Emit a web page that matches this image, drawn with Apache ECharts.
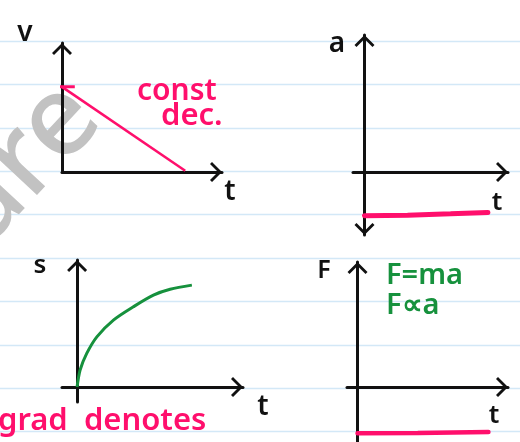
<!DOCTYPE html>
<html>
<head>
<meta charset="utf-8">
<script src="https://cdn.jsdelivr.net/npm/echarts@6/dist/echarts.min.js"></script>
<style>
  html, body { margin:0; padding:0; background:#fff; }
  #chart { width:520px; height:442px; }
</style>
</head>
<body>
<div id="chart"></div>
<script type="text/javascript">
  // sketch data (arbitrary units)
  var vData = [[0, 6.6], [7.7, 0.1]];          // v-t : constant deceleration
  var vTick = [[-0.3, 6.6], [0.8, 6.6]];       // little mark at v0 on the axis
  var aData = [[0, -3.2], [3, -3.15], [6, -3.05], [8.6, -2.95]];   // a-t
  var sData = [[0, 0], [0.2, 1.14], [0.64, 2.25], [1.31, 3.36], [2.41, 4.48],
               [3.73, 5.37], [5.06, 6.15], [6.17, 6.54], [7.61, 6.82]];  // s-t
  var fData = [[0, -3.7], [4, -3.68], [8.7, -3.6]];   // F-t

  var pink = '#ff0f6c';
  var green = '#16913d';
  var ink = '#111';
  var hand = "'Noto Sans', sans-serif";

  // open chevron arrow head
  var chevron = 'path://M0,10 L10,0 L20,10 L18,12 L10,4 L2,12 Z';

  function xAx(grid, min, max) {
    return {
      type: 'value', gridIndex: grid, min: min, max: max,
      axisLine: { show: true, onZero: true, symbol: ['none', chevron], symbolSize: [20, 12],
                  symbolOffset: [6, -6], lineStyle: { color: ink, width: 3 } },
      axisTick: { show: false }, axisLabel: { show: false }, splitLine: { show: false }
    };
  }
  function yAx(grid, min, max, sym) {
    return {
      type: 'value', gridIndex: grid, min: min, max: max,
      axisLine: { show: true, onZero: true, symbol: sym, symbolSize: [20, 12],
                  symbolOffset: [6, -6], lineStyle: { color: ink, width: 3 } },
      axisTick: { show: false }, axisLabel: { show: false }, splitLine: { show: false }
    };
  }

  // notebook ruling
  var paper = [];
  for (var k = 0; k < 10; k++) {
    var yy = Math.round(40.7 + 43.4 * k) + 0.5;
    paper.push({ type: 'line', z: -20, silent: true,
      shape: { x1: 0, y1: yy, x2: 520, y2: yy },
      style: { stroke: '#d3e8f7', lineWidth: 1.5 } });
  }

  function label(txt, x, y, size, color) {
    return { type: 'text', x: x, y: y, z: 10,
      style: { text: txt, fill: color || ink, font: '600 ' + size + 'px ' + hand,
               textAlign: 'center', textVerticalAlign: 'middle' } };
  }
  function note(txt, x, y, size, color) {
    return { type: 'text', x: x, y: y, z: 10,
      style: { text: txt, fill: color, font: '600 ' + size + 'px ' + hand,
               textVerticalAlign: 'middle' } };
  }

  var myChart = echarts.init(document.getElementById('chart'));
  myChart.setOption({
    animation: false,
    backgroundColor: '#fff',
    grid: [
      { left: 62, top: 43, width: 160, height: 129 },
      { left: 353, top: 35, width: 155, height: 200 },
      { left: 62, top: 260, width: 181, height: 142 },
      { left: 347, top: 262, width: 161, height: 180 }
    ],
    xAxis: [
      xAx(0, 0, 10),
      xAx(1, -0.8, 10),
      xAx(2, -1, 11),
      xAx(3, -0.7, 10)
    ],
    yAxis: [
      yAx(0, 0, 10, ['none', chevron]),
      yAx(1, -4.6, 10, [chevron, chevron]),
      yAx(2, -1, 8.5, ['none', chevron]),
      yAx(3, -4.4, 10, ['none', chevron])
    ],
    graphic: paper.concat([
      { type: 'text', x: 82, y: 100, rotation: 0.82, z: -10, silent: true,
        style: { text: 'are', fill: '#c2c2c2', font: '500 112px ' + hand,
                 textAlign: 'right', textVerticalAlign: 'middle' } },
      label('v', 25, 33, 28),
      label('t', 230, 192, 28),
      label('a', 337, 44, 28),
      label('t', 497, 203, 26),
      label('s', 40, 266, 26),
      label('t', 263, 407, 28),
      label('F', 324, 271, 25),
      label('t', 494, 416, 26),
      note('const', 137, 91, 30, pink),
      note('dec.', 161, 116, 31, pink),
      note('F=ma', 386, 276, 29, green),
      note('F∝a', 386, 306, 29, green),
      note('grad  denotes', -2, 421, 31, pink)
    ]),
    series: [
      { name: 'v', type: 'line', xAxisIndex: 0, yAxisIndex: 0, data: vData,
        showSymbol: false, lineStyle: { color: pink, width: 2.5 } },
      { name: 'v0', type: 'line', xAxisIndex: 0, yAxisIndex: 0, data: vTick, clip: false,
        showSymbol: false, lineStyle: { color: pink, width: 3 } },
      { name: 'a', type: 'line', xAxisIndex: 1, yAxisIndex: 1, data: aData,
        showSymbol: false, lineStyle: { color: pink, width: 5, cap: 'round' } },
      { name: 's', type: 'line', xAxisIndex: 2, yAxisIndex: 2, data: sData,
        smooth: 0.3,
        showSymbol: false, lineStyle: { color: green, width: 3 } },
      { name: 'F', type: 'line', xAxisIndex: 3, yAxisIndex: 3, data: fData,
        showSymbol: false, lineStyle: { color: pink, width: 4.5, cap: 'round' } }
    ]
  });
</script>
</body>
</html>
